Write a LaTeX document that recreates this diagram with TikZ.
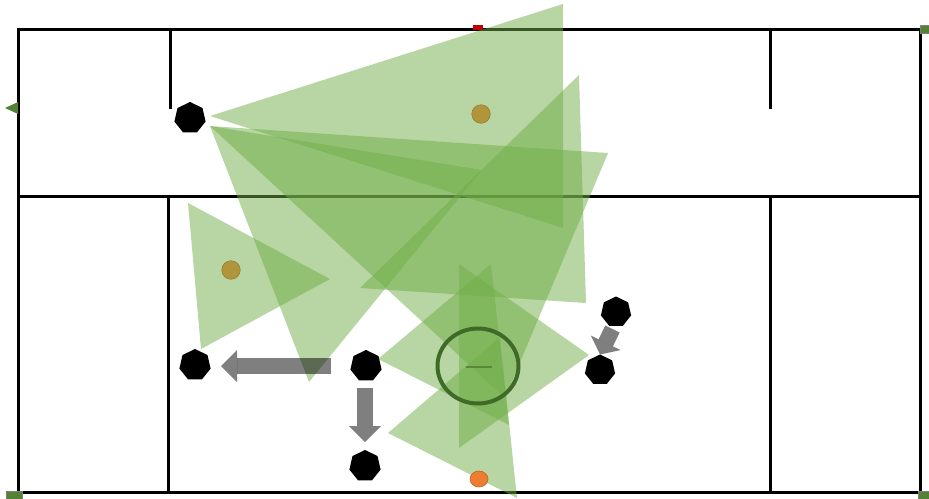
\documentclass[tikz,border=0pt]{standalone}
\usetikzlibrary{shapes.geometric,arrows.meta}
\definecolor{fovgreen}{HTML}{70AD47}
\definecolor{darkgreen}{HTML}{548235}
\definecolor{ringgreen}{HTML}{3F6A28}
\definecolor{gold}{HTML}{B0953B}
\definecolor{orangeball}{HTML}{ED7D31}
\definecolor{darkred}{HTML}{C00000}
\tikzset{
	wall/.style={line width=3pt, black},
	fov/.style={fill=fovgreen, opacity=0.5},
	robot/.style={regular polygon, regular polygon sides=7, fill=black, inner sep=0pt, outer sep=0pt, minimum size=32pt},
	moveArrow/.style={line width=16pt, black, draw opacity=0.5, fill opacity=0.5, -{Triangle[width=32pt,length=16pt,line width=0pt]}},
	ball/.style={circle, fill=gold, draw=gold!85!black, line width=0.6pt, inner sep=0pt, outer sep=0pt, minimum size=18.5pt},
	goalpost/.style={fill=darkgreen, draw=gray, line width=0.7pt, inner sep=0pt, outer sep=0pt}
}
\begin{document}
\begin{tikzpicture}[x=1pt, y=-1pt]
\useasboundingbox (0,0) rectangle (929,498);

\draw[wall] (18,29) rectangle (920,492.5);
\draw[wall] (18,196.5) -- (920,196.5);
\draw[wall] (170,29) -- (170,108.5);
\draw[wall] (770,29) -- (770,108.5);
\draw[wall] (168,196.5) -- (168,492.5);
\draw[wall] (770,196.5) -- (770,492.5);

\fill[fov] (210,116) -- (563,4) -- (563,228) -- cycle;
\fill[fov] (210,126) -- (608,153) -- (505,398) -- cycle;
\fill[fov] (210,126) -- (482,170) -- (309,382) -- cycle;
\fill[fov] (360,288) -- (579,75) -- (586,303) -- cycle;
\fill[fov] (188,203) -- (330,279) -- (201,349) -- cycle;
\fill[fov] (459,264) -- (589,355) -- (459,448) -- cycle;
\fill[fov] (378,359) -- (491,264) -- (509,425) -- cycle;
\fill[fov] (388,433) -- (500,337) -- (517,498) -- cycle;

\node[robot] (keeper) at (190,118) {};
\node[robot] (leftRobot) at (195,365) {};
\node[robot] (midRobot) at (366,366) {};
\node[robot] (lowRobot) at (365,466) {};
\node[robot, minimum size=31pt] (rightTop) at (616,312) {};
\node[robot, minimum size=31pt] (rightLow) at (600,370) {};

\coordinate (rightTail) at (612.5,329);
\draw[moveArrow, shorten <=20pt, shorten >=26pt] (midRobot) -- (midRobot -| leftRobot);
\draw[moveArrow, shorten <=22pt, shorten >=8pt] (lowRobot |- midRobot) -- (lowRobot);
\draw[moveArrow, -{Triangle[width=33pt,length=13pt,line width=0pt]}] (rightTail) -- (rightLow.north);

\node[ball] (ballTop) at (481,114) {};
\node[ball] (ballLeft) at (231,270) {};
\node[ellipse, fill=orangeball, draw=orangeball!80!black, line width=0.6pt, inner sep=0pt, outer sep=0pt, minimum width=18pt, minimum height=16pt] (ballLow) at (479,479) {};

\node[ellipse, draw=ringgreen, line width=4pt, inner sep=0pt, minimum width=81pt, minimum height=75pt] (ring) at (478,366) {};
\draw[darkgreen!85!fovgreen, line width=2.6pt] (466,367) -- (492,367);

\node[fill=darkred, inner sep=0pt, outer sep=0pt, minimum width=10pt, minimum height=5pt] (redMark) at (478,27.5) {};
\node[goalpost, minimum width=16pt, minimum height=8pt] (postRightTop) at (928,29) {};
\node[goalpost, minimum width=16pt, minimum height=8pt] (postLeftLow) at (14,495) {};
\node[goalpost, minimum width=16pt, minimum height=8pt] (postRightLow) at (926,495) {};
\fill[darkgreen] (5,108) -- (18,102) -- (18,114) -- cycle;
\end{tikzpicture}
\end{document}
